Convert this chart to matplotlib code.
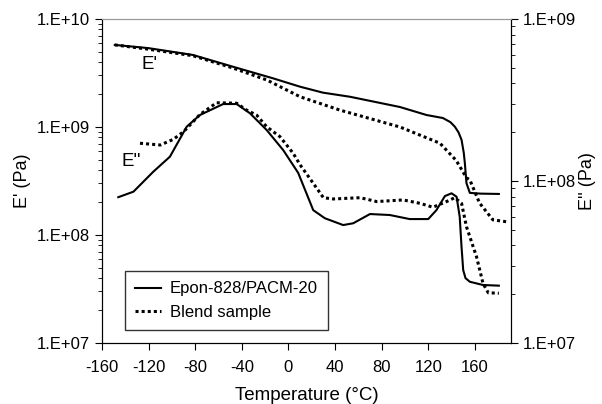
import matplotlib
matplotlib.use("Agg")
import matplotlib.pyplot as plt
import numpy as np

plt.rcParams['font.family'] = ['Liberation Sans', 'DejaVu Sans']

# E' (storage modulus, left axis), log10 of Pa
e1_solid_t = [-149, -120, -82, -47.6, -13, 10, 29.6, 52.8, 95.7, 118.5, 132.6, 139, 142.8, 146, 148.6, 150.5, 151.4, 152.8, 155.7, 165, 180.6]
e1_solid_v = [9.76, 9.73, 9.667, 9.558, 9.45, 9.373, 9.318, 9.28, 9.185, 9.111, 9.083, 9.045, 9.003, 8.95, 8.88, 8.76, 8.667, 8.48, 8.39, 8.383, 8.38]
e1_dot_t = [-149, -120, -82, -47.6, -18.5, 10, 44, 95.7, 130, 144, 152.8, 155.7, 164, 175.5, 187]
e1_dot_v = [9.76, 9.72, 9.66, 9.546, 9.435, 9.28, 9.157, 9.0, 8.85, 8.69, 8.53, 8.51, 8.296, 8.14, 8.123]

# E'' (loss modulus, right axis), log10 of Pa
e2_solid_t = [-146, -133, -116, -101.7, -87.3, -76, -56, -44.4, -33, -18.7, -4.4, 8.4, 21.3, 31.3, 47, 55.6, 70, 87, 104,
              120, 127, 134.3, 140, 144.3, 147, 148.5, 150, 152, 155.7, 167, 180.6]
e2_solid_v = [7.9, 7.934, 8.057, 8.15, 8.335, 8.407, 8.475, 8.475, 8.418, 8.315, 8.19, 8.05, 7.82, 7.77, 7.728, 7.739, 7.796,
              7.79, 7.765, 7.765, 7.82, 7.907, 7.924, 7.903, 7.78, 7.6, 7.45, 7.4, 7.378, 7.358, 7.354]
e2_dot_t = [-127.4, -110, -98.8, -90, -76, -61.6, -44.4, -36, -27.3, -18.7, -7.3, 4.1, 10, 21.3, 30, 38.5, 61.6, 75.7,
            98.5, 113, 124, 135.7, 142.8, 148.6, 152.8, 161.4, 167, 171.5, 180.6]
e2_dot_v = [8.233, 8.222, 8.257, 8.304, 8.41, 8.483, 8.48, 8.438, 8.407, 8.335, 8.274, 8.171, 8.1, 7.986, 7.897, 7.889,
            7.897, 7.873, 7.883, 7.862, 7.838, 7.873, 7.897, 7.862, 7.718, 7.533, 7.368, 7.31, 7.307]

xticks = [-160, -120, -80, -40, 0, 40, 80, 120, 160]

fig = plt.figure(figsize=(6.02, 4.04), dpi=100)
ax = fig.add_axes([0.1694, 0.151, 0.6794, 0.802])
ax2 = ax.twinx()

ax.plot(e1_solid_t, 10 ** np.array(e1_solid_v), color='black', lw=1.5, label='Epon-828/PACM-20')
ax.plot(e1_dot_t, 10 ** np.array(e1_dot_v), color='black', lw=2.2, ls=(0, (1, 1)), label='Blend sample')
ax2.plot(e2_solid_t, 10 ** np.array(e2_solid_v), color='black', lw=1.5)
ax2.plot(e2_dot_t, 10 ** np.array(e2_dot_v), color='black', lw=2.2, ls=(0, (1, 1)))

ax.set_yscale('log')
ax2.set_yscale('log')
ax.set_ylim(1e7, 1e10)
ax2.set_ylim(1e7, 1e9)
ax.set_xlim(-160, 191)
ax.set_xticks(xticks)
ax.set_xticklabels([str(t) for t in xticks])

fmt = lambda v, p: '1.E+%02d' % round(np.log10(v))
ax.yaxis.set_major_formatter(matplotlib.ticker.FuncFormatter(fmt))
ax2.yaxis.set_major_formatter(matplotlib.ticker.FuncFormatter(fmt))
ax.yaxis.set_minor_formatter(matplotlib.ticker.NullFormatter())
ax2.yaxis.set_minor_formatter(matplotlib.ticker.NullFormatter())

for a in (ax, ax2):
    a.tick_params(which='major', length=5, width=0.8, labelsize=12, direction='out')
    a.tick_params(which='minor', length=3, width=0.6, direction='out')
ax.tick_params(axis='x', pad=7)
ax.spines['top'].set_color('#999999')
ax2.spines['top'].set_color('#999999')

ax.set_xlabel('Temperature (°C)', fontsize=13.5, labelpad=9)
ax.set_ylabel("E' (Pa)", fontsize=13, labelpad=4)
ax2.set_ylabel("E'' (Pa)", fontsize=13, rotation=90, labelpad=2)

ax.text(-126, 10 ** 9.58, "E'", fontsize=13.5, va='center')
ax.text(-143, 10 ** 8.685, "E''", fontsize=13.5, va='center')

leg = ax.legend(loc='lower left', bbox_to_anchor=(0.035, 0.015), fontsize=12, frameon=True, fancybox=False,
                edgecolor='black', handlelength=1.6, borderpad=0.6, labelspacing=0.5, handletextpad=0.5)
leg.get_frame().set_linewidth(1.0)

fig.savefig('out.png', dpi=100)
